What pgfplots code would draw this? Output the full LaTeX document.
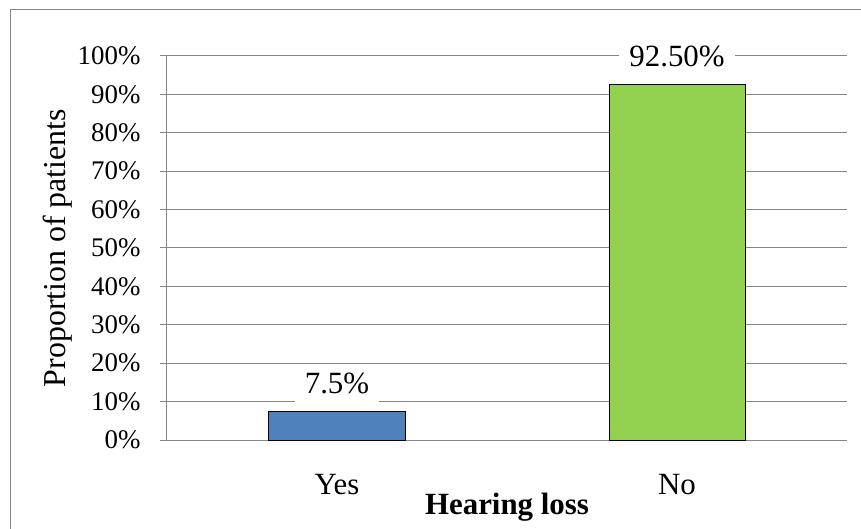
\documentclass[border=0pt]{standalone}
\usepackage{fontspec}
\setmainfont{Liberation Serif}
\usepackage{pgfplots}
\pgfplotsset{compat=1.18}
\definecolor{gridgray}{HTML}{868686}
\definecolor{barblue}{HTML}{4F81BD}
\definecolor{bargreen}{HTML}{92D050}
\begin{document}
\begin{tikzpicture}
\begin{axis}[
  at={(0,0)}, anchor=south west,
  scale only axis,
  width=680bp, height=384bp,
  xmin=-0.5, xmax=1.5,
  ymin=0, ymax=100,
  axis x line*=bottom,
  axis y line*=left,
  axis line style={gridgray, line width=1bp},
  xtick={0,1},
  xticklabels={Yes,No},
  ytick={0,10,...,100},
  yticklabel={\pgfmathprintnumber{\tick}\%},
  /pgf/number format/assume math mode=true,
  ymajorgrids,
  grid style={gridgray, line width=1bp},
  tick align=outside,
  x tick style={draw=none},
  y tick style={gridgray, line width=1bp},
  major tick length=7bp,
  yticklabel style={font=\fontsize{27}{32}\selectfont, xshift=-16bp},
  xticklabel style={font=\fontsize{31}{37}\selectfont, anchor=base, yshift=-47bp},
  xlabel={\textbf{Hearing loss}},
  ylabel={Proportion of patients},
  xlabel style={font=\fontsize{31}{37}\selectfont, at={(axis description cs:0.5,0)}, anchor=base, yshift=-74bp},
  ylabel style={font=\fontsize{32}{38}\selectfont, at={(axis description cs:-0.1500,0.5)}, anchor=base},
  bar width=0.4,
  nodes near coords,
  point meta=explicit symbolic,
  every node near coord/.append style={font=\fontsize{31}{37}\selectfont, anchor=center, yshift=28bp, fill=white, inner xsep=10bp, inner ysep=8bp},
  clip=false,
]
\addplot[ybar, fill=barblue, draw=black, line width=1bp] coordinates {(0,7.5) [7.5\%]};
\addplot[ybar, fill=bargreen, draw=black, line width=1bp] coordinates {(1,92.5) [92.50\%]};
\end{axis}
\draw[gridgray, line width=1bp] (-156bp,-95bp) -- (-156bp,430bp) -- (700bp,430bp);
\pgfresetboundingbox
\useasboundingbox (-167bp,-89bp) rectangle (694bp,440bp);
\end{tikzpicture}
\end{document}
